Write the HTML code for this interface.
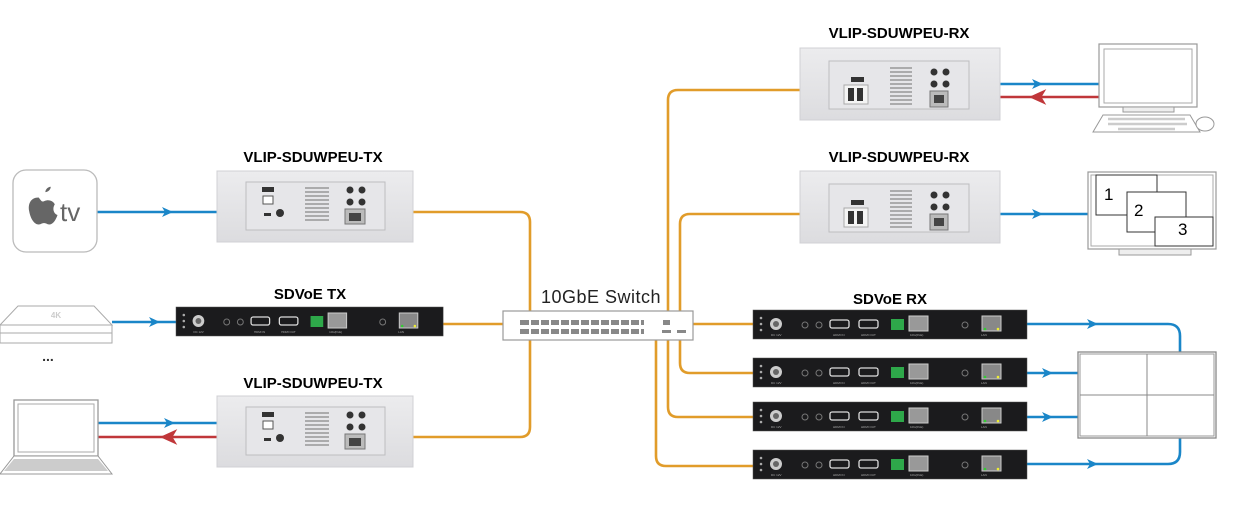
<!DOCTYPE html>
<html><head><meta charset="utf-8"><style>
html,body{margin:0;padding:0;background:#fff;width:1236px;height:520px;overflow:hidden}
svg{display:block}
.lbl{font-family:"Liberation Sans",Arial,sans-serif;font-weight:bold;font-size:15px;fill:#000;text-anchor:middle}
</style></head><body>
<svg width="1236" height="520" viewBox="0 0 1236 520" xmlns="http://www.w3.org/2000/svg">
<defs>
<linearGradient id="pg" x1="0" y1="0" x2="0" y2="1"><stop offset="0" stop-color="#ececee"/><stop offset="1" stop-color="#dcdcdf"/></linearGradient>
<g id="plateTX">
<rect x="0" y="0" width="196" height="71" fill="url(#pg)" stroke="#d0d0d4"/>
<rect x="29" y="11" width="139" height="48" fill="#e6e6e9" stroke="#bdbdc0"/>
<rect x="45" y="16" width="12" height="5" fill="#333"/>
<rect x="46" y="25" width="10" height="8" fill="#fff" stroke="#555"/>
<rect x="47" y="42" width="7" height="3" fill="#333"/>
<circle cx="63" cy="42" r="4" fill="#333"/>
<g stroke="#888" stroke-width="1.3"><path d="M88,17h24M88,21h24M88,25h24M88,29h24M88,33h24M88,37h24M88,41h24M88,45h24M88,49h24"/></g>
<circle cx="133" cy="19" r="3.5" fill="#333"/><circle cx="145" cy="19" r="3.5" fill="#333"/>
<circle cx="133" cy="31" r="3.5" fill="#333"/><circle cx="145" cy="31" r="3.5" fill="#333"/>
<rect x="128" y="38" width="20" height="15" fill="#bbb" stroke="#777"/><rect x="132" y="42" width="12" height="8" fill="#444"/>
</g>
<g id="plateRX">
<rect x="0" y="0" width="200" height="72" fill="url(#pg)" stroke="#d0d0d4"/>
<rect x="29" y="13" width="140" height="48" fill="#e6e6e9" stroke="#bdbdc0"/>
<rect x="51" y="29" width="13" height="5" fill="#333"/>
<rect x="44" y="37" width="24" height="19" fill="#f4f4f4" stroke="#aaa"/>
<rect x="48" y="40" width="6" height="13" fill="#333"/><rect x="57" y="40" width="6" height="13" fill="#333"/>
<g stroke="#888" stroke-width="1.3"><path d="M90,20h22M90,24h22M90,28h22M90,32h22M90,36h22M90,40h22M90,44h22M90,48h22M90,52h22M90,56h22"/></g>
<circle cx="134" cy="24" r="3.5" fill="#333"/><circle cx="146" cy="24" r="3.5" fill="#333"/>
<circle cx="134" cy="36" r="3.5" fill="#333"/><circle cx="146" cy="36" r="3.5" fill="#333"/>
<rect x="130" y="43" width="18" height="16" fill="#bbb" stroke="#777"/><rect x="134" y="47" width="10" height="8" fill="#444"/>
</g>
<g id="sdvoe">
<rect x="0" y="0" width="274" height="29" fill="#1b1b1d" stroke="#555" stroke-width="0.5"/>
<circle cx="23" cy="14" r="6" fill="#ccc"/><circle cx="23" cy="14" r="3" fill="#666"/>
<circle cx="8" cy="8" r="1.3" fill="#aaa"/><circle cx="8" cy="14" r="1.3" fill="#aaa"/><circle cx="8" cy="20" r="1.3" fill="#aaa"/>
<circle cx="52" cy="15" r="3" fill="none" stroke="#777"/><circle cx="66" cy="15" r="3" fill="none" stroke="#777"/>
<rect x="77" y="10" width="19" height="8" rx="2" fill="none" stroke="#ddd" stroke-width="1.3"/>
<rect x="106" y="10" width="19" height="8" rx="2" fill="none" stroke="#ddd" stroke-width="1.3"/>
<rect x="138" y="9" width="13" height="11" fill="#2ea84a"/>
<rect x="156" y="6" width="19" height="15" fill="#999" stroke="#ccc"/>
<rect x="229" y="6" width="19" height="15" fill="#888" stroke="#ccc"/><circle cx="232" cy="19" r="1.3" fill="#3c3"/><circle cx="245" cy="19" r="1.3" fill="#ee3"/>
<circle cx="212" cy="15" r="3" fill="none" stroke="#777"/>
<g fill="#aaa" font-size="3" font-family="Liberation Sans"><text x="18" y="26">DC 12V</text><text x="80" y="26">HDMI IN</text><text x="108" y="26">HDMI OUT</text><text x="157" y="26">10G(PoE)</text><text x="228" y="26">LAN</text></g>
</g>
</defs>

<!-- orange connections -->
<g fill="none" stroke="#e19c2a" stroke-width="2.6">
<path d="M413,212 H520 Q530,212 530,222 V311"/>
<path d="M413,437 H520 Q530,437 530,427 V340"/>
<path d="M443,324 H503"/>
<path d="M693,324 H753"/>
<path d="M800,90 H678 Q668,90 668,100 V311"/>
<path d="M800,214 H690 Q680,214 680,224 V311"/>
<path d="M680,340 V363 Q680,373 690,373 H753"/>
<path d="M668,340 V407 Q668,417 678,417 H753"/>
<path d="M656,340 V456 Q656,466 666,466 H753"/>
</g>

<!-- blue/red connections -->
<g fill="none" stroke="#1a86c8" stroke-width="2.6">
<path d="M97,212 H217"/>
<path d="M112,322 H176"/>
<path d="M97,423 H217"/>
<path d="M1000,84 H1100"/>
<path d="M1000,214 H1090"/>
<path d="M1027,324 H1168 Q1180,324 1180,336 V353"/>
<path d="M1027,373 H1078"/>
<path d="M1027,417 H1078"/>
<path d="M1027,464 H1168 Q1180,464 1180,452 V437"/>
</g>
<g stroke="#c0373a" stroke-width="2.6" fill="#c0373a">
<path d="M217,437 H97"/><path d="M163,437 L174,432 L171,437 L174,442z"/>
<path d="M1100,97 H1000"/><path d="M1032,97 L1043,92 L1040,97 L1043,102z"/>
</g>
<g fill="#1a86c8">
<path d="M173,212 L162,207 L165,212 L162,217z"/>
<path d="M160,322 L149,317 L152,322 L149,327z"/>
<path d="M175,423 L164,418 L167,423 L164,428z"/>
<path d="M1043,84 L1032,79 L1035,84 L1032,89z"/>
<path d="M1043,214 L1032,209 L1035,214 L1032,219z"/>
<path d="M1098,324 L1087,319 L1090,324 L1087,329z"/>
<path d="M1053,373 L1042,368 L1045,373 L1042,378z"/>
<path d="M1053,417 L1042,412 L1045,417 L1042,422z"/>
<path d="M1098,464 L1087,459 L1090,464 L1087,469z"/>
</g>

<!-- Apple TV -->
<rect x="13" y="170" width="84" height="82" rx="13" fill="#fff" stroke="#bbb" stroke-width="1.3"/>
<g transform="translate(44 211) scale(1.35) translate(-44 -211)">
<path d="M40,201 c-6,0 -8,5 -7,10 c1,6 4,10 7,10 c2,0 2,-1 4,-1 c2,0 2,1 4,1 c3,0 5,-4 6,-7 c-3,-1 -4,-5 -2,-8 c-1,-2 -3,-3 -5,-3 c-2,0 -3,1 -4,1 c-1,0 -2,-2 -3,-3z M45,197 c0,-2 2,-4 4,-4 c0,2 -2,4 -4,4z" fill="#666"/>
</g>
<text x="60" y="221" font-family="Liberation Sans,sans-serif" font-size="26" fill="#666">tv</text>

<!-- 4K box -->
<path d="M0,325 L18,306 H94 L112,325 Z" fill="#fff" stroke="#aaa"/>
<rect x="0" y="325" width="112" height="8" fill="#fff" stroke="#aaa"/>
<rect x="0" y="333" width="112" height="10" fill="#fff" stroke="#aaa"/>
<text x="56" y="318" font-family="Liberation Sans,sans-serif" font-size="8" font-weight="bold" fill="#ccc" text-anchor="middle">4K</text>
<text x="48" y="361" font-family="Liberation Sans,sans-serif" font-size="14" font-weight="bold" fill="#333" text-anchor="middle">...</text>

<!-- Laptop -->
<rect x="14" y="400" width="84" height="56" fill="#fff" stroke="#999" stroke-width="1.3"/>
<rect x="18" y="404" width="76" height="48" fill="#fff" stroke="#aaa"/>
<path d="M14,456 H98 L112,474 H0 Z" fill="#fff" stroke="#999"/>
<path d="M14,459 H98 L108,471 H4 Z" fill="#ccc"/>

<!-- plates -->
<use href="#plateTX" x="217" y="171"/>
<use href="#plateTX" x="217" y="396"/>
<use href="#plateRX" x="800" y="48"/>
<use href="#plateRX" x="800" y="171"/>
<text class="lbl" x="313" y="162">VLIP-SDUWPEU-TX</text>
<text class="lbl" x="313" y="388">VLIP-SDUWPEU-TX</text>
<text class="lbl" x="899" y="38">VLIP-SDUWPEU-RX</text>
<text class="lbl" x="899" y="162">VLIP-SDUWPEU-RX</text>

<!-- SDVoE -->
<use href="#sdvoe" x="176" y="307" transform="translate(176 307) scale(0.975 1) translate(-176 -307)"/>
<use href="#sdvoe" x="753" y="310"/>
<use href="#sdvoe" x="753" y="358"/>
<use href="#sdvoe" x="753" y="402"/>
<use href="#sdvoe" x="753" y="450"/>
<text class="lbl" x="310" y="299">SDVoE TX</text>
<text class="lbl" x="890" y="304">SDVoE RX</text>

<!-- Switch -->
<rect x="503" y="311" width="190" height="29" fill="#fff" stroke="#999" stroke-width="1.2"/>
<g fill="#888">
<path d="M520,320h124v5h-124z M520,329h124v5h-124z"/>
<path d="M663,320h7v5h-7z M662,330h9v3h-9z M677,330h9v3h-9z"/>
</g>
<g stroke="#fff" stroke-width="2"><path d="M530,319v16M540,319v16M550,319v16M560,319v16M570,319v16M580,319v16M590,319v16M600,319v16M610,319v16M620,319v16M630,319v16M640,319v16"/></g>
<text x="601" y="303" font-family="Liberation Sans,sans-serif" font-size="18" fill="#222" text-anchor="middle" letter-spacing="0.5">10GbE Switch</text>

<!-- PC monitor -->
<rect x="1099" y="44" width="98" height="63" fill="#fff" stroke="#999" stroke-width="1.2"/>
<rect x="1104" y="49" width="88" height="54" fill="#fff" stroke="#aaa"/>
<path d="M1123,107 H1174 V112 H1123z" fill="#eee" stroke="#999"/>
<path d="M1103,115 H1190 L1200,132 H1093 Z" fill="#fff" stroke="#999"/>
<path d="M1108,119 H1185 M1108,124 H1187 M1118,129 H1175" stroke="#ccc" stroke-width="2.5"/>
<ellipse cx="1205" cy="124" rx="9" ry="7" fill="#fff" stroke="#999"/>

<!-- multiview display -->
<rect x="1088" y="172" width="128" height="77" fill="#fff" stroke="#999" stroke-width="1.2"/>
<rect x="1091" y="175" width="122" height="71" fill="#fff" stroke="#aaa"/>
<path d="M1157,175v16" stroke="#333"/>
<rect x="1096" y="175" width="61" height="40" fill="#fff" stroke="#333"/>
<rect x="1127" y="192" width="59" height="40" fill="#fff" stroke="#333"/>
<rect x="1155" y="217" width="58" height="29" fill="#fff" stroke="#333"/>
<g font-family="Liberation Sans,sans-serif" font-size="17" fill="#000"><text x="1104" y="200">1</text><text x="1134" y="216">2</text><text x="1178" y="235">3</text></g>
<path d="M1119,249 H1191 V255 H1119z" fill="#eee" stroke="#999"/>

<!-- video wall -->
<rect x="1078" y="352" width="138" height="86" fill="#fff" stroke="#888" stroke-width="1.3"/>
<rect x="1080" y="354" width="134" height="82" fill="#fff" stroke="#999"/>
<path d="M1147,354V436M1080,395H1214" stroke="#888"/>
</svg>
</body></html>
